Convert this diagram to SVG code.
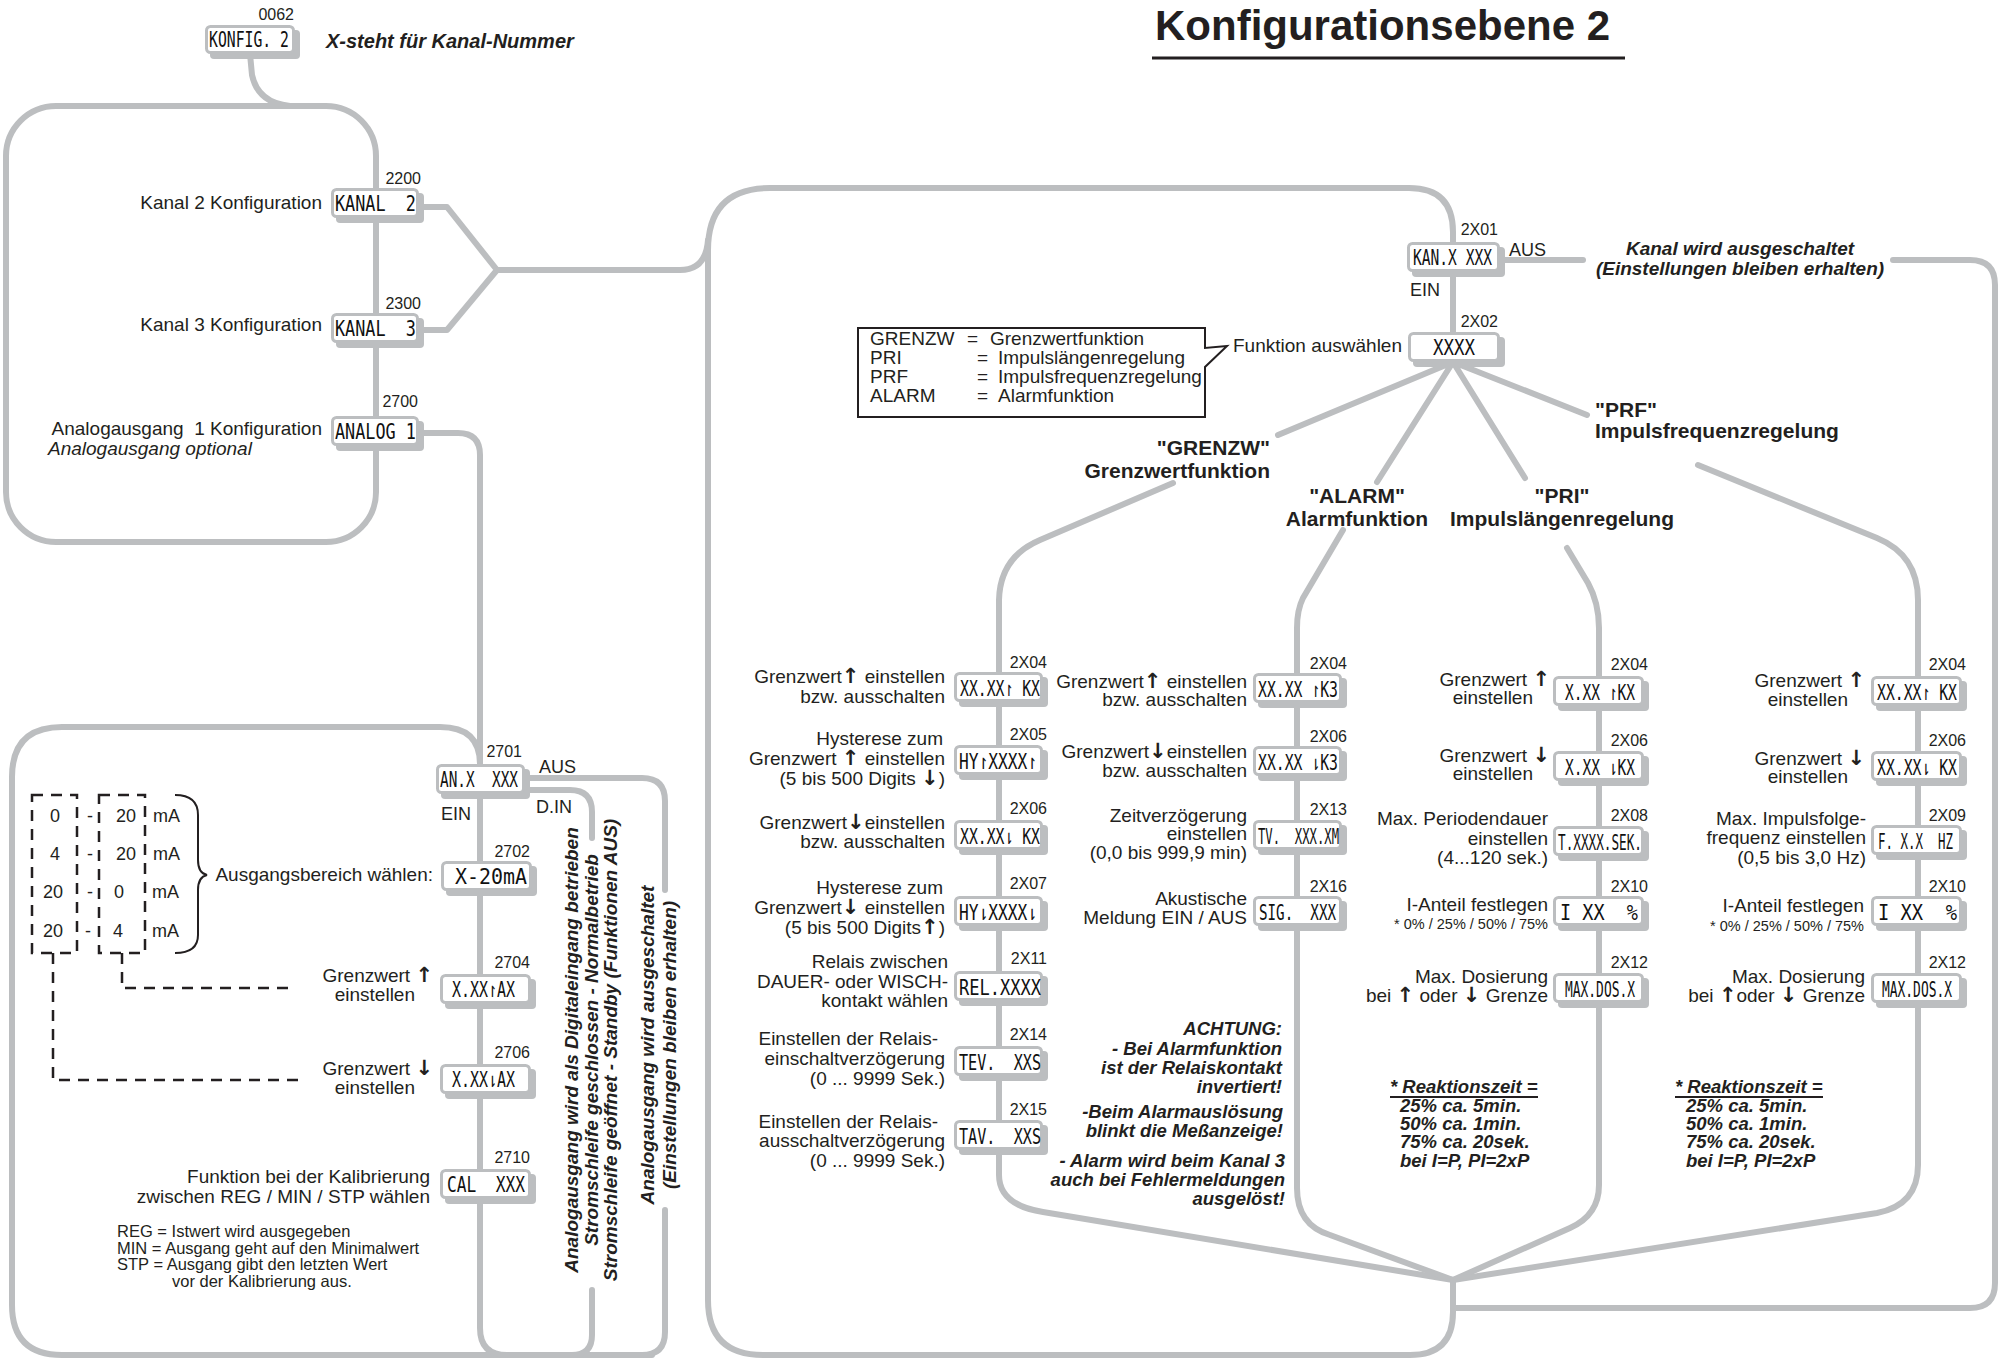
<svg xmlns="http://www.w3.org/2000/svg" width="1998" height="1361" viewBox="0 0 1998 1361" xml:space="preserve">
<defs>
<style>
.ln{fill:none;stroke:#bcbec0;stroke-width:6;stroke-linejoin:round;stroke-linecap:round}
.sh{fill:#bcbec0}
.bx{fill:#fff;stroke:#bcbec0;stroke-width:3}
.lcd{font-family:"DejaVu Sans Mono","Liberation Mono",monospace;font-size:21px;fill:#111;white-space:pre}
.t{font-family:"Liberation Sans",Arial,sans-serif;font-size:19px;fill:#231f20;white-space:pre}
.ar{font-family:"DejaVu Sans",sans-serif;font-weight:bold;font-size:21px}
.n{font-size:16px}
.s{font-size:16.5px}
.xs{font-size:14.5px}
.e{text-anchor:end}
.m{text-anchor:middle}
.b{font-weight:bold}
.bi{font-weight:bold;font-style:italic}
.i{font-style:italic}
.f21{font-size:21px}
.dash{fill:none;stroke:#231f20;stroke-width:2.5;stroke-dasharray:11 8}
.blk{fill:none;stroke:#231f20;stroke-width:2}
</style>
</defs>
<rect width="1998" height="1361" fill="#fff"/>

<g id="title">
<text class="t b" x="1155" y="40" style="font-size:42px">Konfigurationsebene 2</text>
<line x1="1152" y1="58" x2="1625" y2="58" stroke="#231f20" stroke-width="3"/>
<text class="t bi" x="326" y="48" style="font-size:20px">X-steht für Kanal-Nummer</text>
</g>

<g id="connectors">
<path class="ln" d="M250,54 L252,75 Q258,103 290,106"/>
<rect class="ln" x="6" y="106" width="370" height="436" rx="50"/>
<path class="ln" d="M419,207 L447,207 L497,270 L447,330 L419,330"/>
<path class="ln" d="M497,270 L680,270 Q706,270 708,240"/>
<path class="ln" d="M419,433 L458,433 Q480,433 480,455 L480,764"/>
<path class="ln" d="M480,764 Q480,727 440,727 L62,727 Q12,727 12,777 L12,1305 Q12,1355 62,1355 L652,1355"/>
<path class="ln" d="M480,794 L480,1328 Q480,1355 507,1355"/>
<path class="ln" d="M522,778 L642,778 Q665,778 665,801 L665,890"/>
<path class="ln" d="M665,1210 L665,1332 Q665,1355 642,1355"/>
<path class="ln" d="M522,790 L570,790 Q592,790 592,812 L592,838"/>
<path class="ln" d="M592,1290 L592,1335 Q592,1355 572,1355"/>
<path class="ln" d="M1453,242 L1453,232 Q1453,188 1409,188 L770,188 Q708,188 708,250 L708,1300 Q708,1355 763,1355 L1410,1355 Q1453,1355 1453,1312 L1453,1280"/>
<path class="ln" d="M1453,272 L1453,332"/>
<path class="ln" d="M1500,260 L1583,260"/>
<path class="ln" d="M1893,260 L1970,260 Q1995,260 1995,285 L1995,1283 Q1995,1308 1970,1308 L1453,1308"/>
<path class="ln" d="M1453,362 L1278,435 M1453,362 L1377,482 M1453,362 L1525,478 M1453,362 L1587,415"/>
<path class="ln" d="M1173,483 L1040,540 Q1000,557 999,600 L999,1175 Q999,1205 1043,1212 L1453,1280"/>
<path class="ln" d="M1343,530 L1303,598 Q1297,610 1297,628 L1297,1188 Q1297,1225 1330,1235 L1453,1280"/>
<path class="ln" d="M1567,548 L1588,583 Q1599,603 1599,628 L1599,1185 Q1599,1215 1570,1228 L1453,1280"/>
<path class="ln" d="M1698,465 L1877,538 Q1918,555 1918,600 L1918,1165 Q1918,1205 1877,1213 L1453,1280"/>
</g>

<g id="n0062">
<rect class="sh" x="210" y="30" width="90" height="29" rx="4"/>
<rect class="bx" x="206.5" y="26.5" width="87" height="26" rx="4"/>
<text class="lcd" x="209" y="47" textLength="80" lengthAdjust="spacingAndGlyphs">KONFIG. 2</text>
<text class="t n e" x="294" y="20">0062</text>
</g>
<g id="n2200">
<rect class="sh" x="336" y="193" width="88" height="30" rx="4"/>
<rect class="bx" x="332.5" y="189.5" width="85" height="27" rx="4"/>
<text class="lcd" x="335" y="211" textLength="81" lengthAdjust="spacingAndGlyphs">KANAL  2</text>
<text class="t n e" x="421" y="184">2200</text>
<text class="t e" x="322" y="209">Kanal 2 Konfiguration</text>
</g>
<g id="n2300">
<rect class="sh" x="336" y="318" width="88" height="30" rx="4"/>
<rect class="bx" x="332.5" y="314.5" width="85" height="27" rx="4"/>
<text class="lcd" x="335" y="336" textLength="81" lengthAdjust="spacingAndGlyphs">KANAL  3</text>
<text class="t n e" x="421" y="309">2300</text>
<text class="t e" x="322" y="331">Kanal 3 Konfiguration</text>
</g>
<g id="n2700">
<rect class="sh" x="336" y="421" width="88" height="30" rx="4"/>
<rect class="bx" x="332.5" y="417.5" width="85" height="27" rx="4"/>
<text class="lcd" x="335" y="439" textLength="81" lengthAdjust="spacingAndGlyphs">ANALOG 1</text>
<text class="t n e" x="418" y="407">2700</text>
<text class="t e" x="322" y="435">Analogausgang  1 Konfiguration</text>
<text class="t i" x="48" y="455">Analogausgang optional</text>
</g>

<g id="n2701">
<rect class="sh" x="441" y="769" width="89" height="30" rx="4"/>
<rect class="bx" x="437.5" y="765.5" width="86" height="27" rx="4"/>
<text class="lcd" x="440" y="787" textLength="78" lengthAdjust="spacingAndGlyphs">AN.X  XXX</text>
<text class="t n e" x="522" y="757">2701</text>
<text class="t" x="539" y="773" style="font-size:18px">AUS</text>
<text class="t" x="441" y="820" style="font-size:18px">EIN</text>
<text class="t" x="536" y="813" style="font-size:18px">D.IN</text>
</g>
<g id="n2702">
<rect class="sh" x="446" y="866" width="91" height="30" rx="4"/>
<rect class="bx" x="442.5" y="862.5" width="88" height="27" rx="4"/>
<text class="lcd" x="455" y="884" textLength="72" lengthAdjust="spacingAndGlyphs">X-20mA</text>
<text class="t n e" x="530" y="857">2702</text>
<text class="t e" x="433" y="881">Ausgangsbereich wählen:</text>
</g>
<g id="ranges">
<rect class="dash" x="32" y="795" width="45" height="158"/>
<rect class="dash" x="99" y="795" width="46" height="158"/>
<path class="dash" d="M53,953 L53,1080 L302,1080"/>
<path class="dash" d="M122,953 L122,988 L290,988"/>
<path class="blk" d="M175,795 Q198,795 198,815 L198,860 Q198,873 207,875 Q198,877 198,890 L198,935 Q198,953 175,953"/>
<g class="t" style="font-size:18px">
<text class="m" x="55" y="822">0</text><text class="m" x="90" y="822">-</text><text class="m" x="126" y="822">20</text><text x="153" y="822">mA</text>
<text class="m" x="55" y="860">4</text><text class="m" x="90" y="860">-</text><text class="m" x="126" y="860">20</text><text x="153" y="860">mA</text>
<text class="m" x="53" y="898">20</text><text class="m" x="90" y="898">-</text><text class="m" x="119" y="898">0</text><text x="152" y="898">mA</text>
<text class="m" x="53" y="937">20</text><text class="m" x="88" y="937">-</text><text class="m" x="118" y="937">4</text><text x="152" y="937">mA</text>
</g>
</g>
<g id="n2704">
<rect class="sh" x="445" y="979" width="91" height="30" rx="4"/>
<rect class="bx" x="441.5" y="975.5" width="88" height="27" rx="4"/>
<text class="lcd" x="452" y="997" textLength="63" lengthAdjust="spacingAndGlyphs">X.XX↾AX</text>
<text class="t n e" x="530" y="968">2704</text>
<text class="t e" x="433" y="982">Grenzwert <tspan class="ar">↑</tspan></text>
<text class="t e" x="415" y="1001">einstellen</text>
</g>
<g id="n2706">
<rect class="sh" x="445" y="1069" width="91" height="30" rx="4"/>
<rect class="bx" x="441.5" y="1065.5" width="88" height="27" rx="4"/>
<text class="lcd" x="452" y="1087" textLength="63" lengthAdjust="spacingAndGlyphs">X.XX⇂AX</text>
<text class="t n e" x="530" y="1058">2706</text>
<text class="t e" x="433" y="1075">Grenzwert <tspan class="ar">↓</tspan></text>
<text class="t e" x="415" y="1094">einstellen</text>
</g>
<g id="n2710">
<rect class="sh" x="445" y="1174" width="91" height="30" rx="4"/>
<rect class="bx" x="441.5" y="1170.5" width="88" height="27" rx="4"/>
<text class="lcd" x="447" y="1192" textLength="78" lengthAdjust="spacingAndGlyphs">CAL  XXX</text>
<text class="t n e" x="530" y="1163">2710</text>
<text class="t e" x="430" y="1183">Funktion bei der Kalibrierung</text>
<text class="t e" x="430" y="1203">zwischen REG / MIN / STP wählen</text>
</g>
<g id="calib-legend" class="t s">
<text x="117" y="1237">REG = Istwert wird ausgegeben</text>
<text x="117" y="1254">MIN  = Ausgang geht auf den Minimalwert</text>
<text x="117" y="1270">STP  = Ausgang gibt den letzten Wert</text>
<text x="172" y="1287">vor der Kalibrierung aus.</text>
</g>
<g id="din-notes" class="t bi m">
<text transform="translate(578,1050) rotate(-90)">Analogausgang wird als Digitaleingang betrieben</text>
<text transform="translate(598,1050) rotate(-90)">Stromschleife geschlossen - Normalbetrieb</text>
<text transform="translate(617,1050) rotate(-90)">Stromschleife geöffnet - Standby (Funktionen AUS)</text>
<text transform="translate(654,1045) rotate(-90)">Analogausgang wird ausgeschaltet</text>
<text transform="translate(676,1045) rotate(-90)">(Einstellungen bleiben erhalten)</text>
</g>

<g id="n2X01">
<rect class="sh" x="1412" y="247" width="93" height="30" rx="4"/>
<rect class="bx" x="1408.5" y="243.5" width="90" height="27" rx="4"/>
<text class="lcd" x="1413" y="265" textLength="79" lengthAdjust="spacingAndGlyphs">KAN.X XXX</text>
<text class="t n e" x="1498" y="235">2X01</text>
<text class="t" x="1509" y="256" style="font-size:18px">AUS</text>
<text class="t" x="1410" y="296" style="font-size:18px">EIN</text>
<text class="t bi m" x="1740" y="255">Kanal wird ausgeschaltet</text>
<text class="t bi m" x="1740" y="275">(Einstellungen bleiben erhalten)</text>
</g>
<g id="n2X02">
<rect class="sh" x="1413" y="337" width="92" height="30" rx="4"/>
<rect class="bx" x="1409.5" y="333.5" width="89" height="27" rx="4"/>
<text class="lcd" x="1433" y="355" textLength="42" lengthAdjust="spacingAndGlyphs">XXXX</text>
<text class="t n e" x="1498" y="327">2X02</text>
<text class="t e" x="1402" y="352">Funktion auswählen</text>
</g>
<g id="function-legend">
<path class="blk" d="M858,328 L1205,328 L1205,348 L1227,346 L1205,367 L1205,417 L858,417 Z"/>
<g class="t">
<text x="870" y="345">GRENZW</text><text x="967" y="345">=</text><text x="990" y="345">Grenzwertfunktion</text>
<text x="870" y="364">PRI</text><text x="977" y="364">=</text><text x="998" y="364">Impulslängenregelung</text>
<text x="870" y="383">PRF</text><text x="977" y="383">=</text><text x="998" y="383">Impulsfrequenzregelung</text>
<text x="870" y="402">ALARM</text><text x="977" y="402">=</text><text x="998" y="402">Alarmfunktion</text>
</g>
</g>
<g id="branch-labels" class="t b f21">
<text class="e" x="1270" y="455">"GRENZW"</text>
<text class="e" x="1270" y="478">Grenzwertfunktion</text>
<text class="m" x="1357" y="503">"ALARM"</text>
<text class="m" x="1357" y="526">Alarmfunktion</text>
<text class="m" x="1562" y="503">"PRI"</text>
<text class="m" x="1562" y="526">Impulslängenregelung</text>
<text x="1595" y="417">"PRF"</text>
<text x="1595" y="438">Impulsfrequenzregelung</text>
</g>

<g id="g2X04">
<rect class="sh" x="959" y="677" width="89" height="30" rx="4"/>
<rect class="bx" x="955.5" y="673.5" width="86" height="27" rx="4"/>
<text class="lcd" x="960" y="696" textLength="80" lengthAdjust="spacingAndGlyphs">XX.XX↾ KX</text>
<text class="t n e" x="1047" y="668">2X04</text>
<text class="t e" x="945" y="683">Grenzwert<tspan class="ar">↑</tspan> einstellen</text>
<text class="t e" x="945" y="703">bzw. ausschalten</text>
</g>
<g id="g2X05">
<rect class="sh" x="959" y="750" width="89" height="30" rx="4"/>
<rect class="bx" x="955.5" y="746.5" width="86" height="27" rx="4"/>
<text class="lcd" x="959" y="769" textLength="78" lengthAdjust="spacingAndGlyphs">HY↾XXXX↾</text>
<text class="t n e" x="1047" y="740">2X05</text>
<text class="t e" x="943" y="745">Hysterese zum</text>
<text class="t e" x="945" y="765">Grenzwert <tspan class="ar">↑</tspan> einstellen</text>
<text class="t e" x="945" y="785">(5 bis 500 Digits <tspan class="ar">↓</tspan>)</text>
</g>
<g id="g2X06">
<rect class="sh" x="959" y="825" width="89" height="30" rx="4"/>
<rect class="bx" x="955.5" y="821.5" width="86" height="27" rx="4"/>
<text class="lcd" x="960" y="844" textLength="80" lengthAdjust="spacingAndGlyphs">XX.XX⇂ KX</text>
<text class="t n e" x="1047" y="814">2X06</text>
<text class="t e" x="945" y="829">Grenzwert<tspan class="ar">↓</tspan>einstellen</text>
<text class="t e" x="945" y="848">bzw. ausschalten</text>
</g>
<g id="g2X07">
<rect class="sh" x="959" y="901" width="89" height="30" rx="4"/>
<rect class="bx" x="955.5" y="897.5" width="86" height="27" rx="4"/>
<text class="lcd" x="959" y="920" textLength="78" lengthAdjust="spacingAndGlyphs">HY⇂XXXX⇂</text>
<text class="t n e" x="1047" y="889">2X07</text>
<text class="t e" x="943" y="894">Hysterese zum</text>
<text class="t e" x="945" y="914">Grenzwert<tspan class="ar">↓</tspan> einstellen</text>
<text class="t e" x="945" y="934">(5 bis 500 Digits<tspan class="ar">↑</tspan>)</text>
</g>
<g id="g2X11">
<rect class="sh" x="959" y="976" width="89" height="30" rx="4"/>
<rect class="bx" x="955.5" y="972.5" width="86" height="27" rx="4"/>
<text class="lcd" x="959" y="995" textLength="82" lengthAdjust="spacingAndGlyphs">REL.XXXX</text>
<text class="t n e" x="1047" y="964">2X11</text>
<text class="t e" x="948" y="968">Relais zwischen</text>
<text class="t e" x="948" y="988">DAUER- oder WISCH-</text>
<text class="t e" x="948" y="1007">kontakt wählen</text>
</g>
<g id="g2X14">
<rect class="sh" x="959" y="1051" width="89" height="30" rx="4"/>
<rect class="bx" x="955.5" y="1047.5" width="86" height="27" rx="4"/>
<text class="lcd" x="959" y="1070" textLength="82" lengthAdjust="spacingAndGlyphs">TEV.  XXS</text>
<text class="t n e" x="1047" y="1040">2X14</text>
<text class="t e" x="938" y="1045">Einstellen der Relais-</text>
<text class="t e" x="945" y="1065">einschaltverzögerung</text>
<text class="t e" x="945" y="1085">(0 ... 9999 Sek.)</text>
</g>
<g id="g2X15">
<rect class="sh" x="959" y="1125" width="89" height="30" rx="4"/>
<rect class="bx" x="955.5" y="1121.5" width="86" height="27" rx="4"/>
<text class="lcd" x="959" y="1144" textLength="82" lengthAdjust="spacingAndGlyphs">TAV.  XXS</text>
<text class="t n e" x="1047" y="1115">2X15</text>
<text class="t e" x="938" y="1128">Einstellen der Relais-</text>
<text class="t e" x="945" y="1147">ausschaltverzögerung</text>
<text class="t e" x="945" y="1167">(0 ... 9999 Sek.)</text>
</g>

<g id="a2X04">
<rect class="sh" x="1258" y="678" width="89" height="30" rx="4"/>
<rect class="bx" x="1254.5" y="674.5" width="86" height="27" rx="4"/>
<text class="lcd" x="1258" y="697" textLength="80" lengthAdjust="spacingAndGlyphs">XX.XX ↾K3</text>
<text class="t n e" x="1347" y="669">2X04</text>
<text class="t e" x="1247" y="688">Grenzwert<tspan class="ar">↑</tspan> einstellen</text>
<text class="t e" x="1247" y="706">bzw. ausschalten</text>
</g>
<g id="a2X06">
<rect class="sh" x="1258" y="751" width="89" height="30" rx="4"/>
<rect class="bx" x="1254.5" y="747.5" width="86" height="27" rx="4"/>
<text class="lcd" x="1258" y="770" textLength="80" lengthAdjust="spacingAndGlyphs">XX.XX ⇂K3</text>
<text class="t n e" x="1347" y="742">2X06</text>
<text class="t e" x="1247" y="758">Grenzwert<tspan class="ar">↓</tspan>einstellen</text>
<text class="t e" x="1247" y="777">bzw. ausschalten</text>
</g>
<g id="a2X13">
<rect class="sh" x="1258" y="825" width="89" height="30" rx="4"/>
<rect class="bx" x="1254.5" y="821.5" width="86" height="27" rx="4"/>
<text class="lcd" x="1258" y="844" textLength="81" lengthAdjust="spacingAndGlyphs">TV.  XXX.XM</text>
<text class="t n e" x="1347" y="815">2X13</text>
<text class="t e" x="1247" y="822">Zeitverzögerung</text>
<text class="t e" x="1247" y="840">einstellen</text>
<text class="t e" x="1247" y="859">(0,0 bis 999,9 min)</text>
</g>
<g id="a2X16">
<rect class="sh" x="1258" y="901" width="89" height="30" rx="4"/>
<rect class="bx" x="1254.5" y="897.5" width="86" height="27" rx="4"/>
<text class="lcd" x="1259" y="920" textLength="77" lengthAdjust="spacingAndGlyphs">SIG.  XXX</text>
<text class="t n e" x="1347" y="892">2X16</text>
<text class="t e" x="1247" y="905">Akustische</text>
<text class="t e" x="1247" y="924">Meldung EIN / AUS</text>
</g>
<g id="achtung" class="t bi e" style="font-size:18.5px">
<text x="1282" y="1035">ACHTUNG:</text>
<text x="1282" y="1055">- Bei Alarmfunktion</text>
<text x="1282" y="1074">ist der Relaiskontakt</text>
<text x="1282" y="1093">invertiert!</text>
<text x="1283" y="1118">-Beim Alarmauslösung</text>
<text x="1283" y="1137">blinkt die Meßanzeige!</text>
<text x="1285" y="1167">- Alarm wird beim Kanal 3</text>
<text x="1285" y="1186">auch bei Fehlermeldungen</text>
<text x="1285" y="1205">ausgelöst!</text>
</g>

<g id="p2X04">
<rect class="sh" x="1558" y="681" width="91" height="30" rx="4"/>
<rect class="bx" x="1554.5" y="677.5" width="88" height="27" rx="4"/>
<text class="lcd" x="1565" y="700" textLength="70" lengthAdjust="spacingAndGlyphs">X.XX ↾KX</text>
<text class="t n e" x="1648" y="670">2X04</text>
<text class="t e" x="1550" y="686">Grenzwert <tspan class="ar">↑</tspan></text>
<text class="t e" x="1533" y="704">einstellen</text>
</g>
<g id="p2X06">
<rect class="sh" x="1558" y="756" width="91" height="30" rx="4"/>
<rect class="bx" x="1554.5" y="752.5" width="88" height="27" rx="4"/>
<text class="lcd" x="1565" y="775" textLength="70" lengthAdjust="spacingAndGlyphs">X.XX ⇂KX</text>
<text class="t n e" x="1648" y="746">2X06</text>
<text class="t e" x="1550" y="762">Grenzwert <tspan class="ar">↓</tspan></text>
<text class="t e" x="1533" y="780">einstellen</text>
</g>
<g id="p2X08">
<rect class="sh" x="1558" y="831" width="91" height="30" rx="4"/>
<rect class="bx" x="1554.5" y="827.5" width="88" height="27" rx="4"/>
<text class="lcd" x="1558" y="850" textLength="84" lengthAdjust="spacingAndGlyphs">T.XXXX.SEK.</text>
<text class="t n e" x="1648" y="821">2X08</text>
<text class="t e" x="1548" y="825">Max. Periodendauer</text>
<text class="t e" x="1548" y="845">einstellen</text>
<text class="t e" x="1548" y="864">(4...120 sek.)</text>
</g>
<g id="p2X10">
<rect class="sh" x="1558" y="901" width="91" height="30" rx="4"/>
<rect class="bx" x="1554.5" y="897.5" width="88" height="27" rx="4"/>
<text class="lcd" x="1560" y="920" textLength="78" lengthAdjust="spacingAndGlyphs">I XX  %</text>
<text class="t n e" x="1648" y="892">2X10</text>
<text class="t e" x="1548" y="911">I-Anteil festlegen</text>
<text class="t xs e" x="1548" y="929">* 0% / 25% / 50% / 75%</text>
</g>
<g id="p2X12">
<rect class="sh" x="1558" y="978" width="91" height="30" rx="4"/>
<rect class="bx" x="1554.5" y="974.5" width="88" height="27" rx="4"/>
<text class="lcd" x="1565" y="997" textLength="70" lengthAdjust="spacingAndGlyphs">MAX.DOS.X</text>
<text class="t n e" x="1648" y="968">2X12</text>
<text class="t e" x="1548" y="983">Max. Dosierung</text>
<text class="t e" x="1548" y="1002">bei <tspan class="ar">↑</tspan> oder <tspan class="ar">↓</tspan> Grenze</text>
</g>
<g id="pri-note" class="t bi" style="font-size:18.5px">
<text x="1390" y="1093">* Reaktionszeit =</text>
<line x1="1390" y1="1097" x2="1538" y2="1097" stroke="#231f20" stroke-width="2"/>
<text x="1400" y="1112">25% ca. 5min.</text>
<text x="1400" y="1130">50% ca. 1min.</text>
<text x="1400" y="1148">75% ca. 20sek.</text>
<text x="1400" y="1167">bei I=P, PI=2xP</text>
</g>

<g id="f2X04">
<rect class="sh" x="1876" y="681" width="91" height="30" rx="4"/>
<rect class="bx" x="1872.5" y="677.5" width="88" height="27" rx="4"/>
<text class="lcd" x="1877" y="700" textLength="80" lengthAdjust="spacingAndGlyphs">XX.XX↾ KX</text>
<text class="t n e" x="1966" y="670">2X04</text>
<text class="t e" x="1865" y="687">Grenzwert <tspan class="ar">↑</tspan></text>
<text class="t e" x="1848" y="706">einstellen</text>
</g>
<g id="f2X06">
<rect class="sh" x="1876" y="756" width="91" height="30" rx="4"/>
<rect class="bx" x="1872.5" y="752.5" width="88" height="27" rx="4"/>
<text class="lcd" x="1877" y="775" textLength="80" lengthAdjust="spacingAndGlyphs">XX.XX⇂ KX</text>
<text class="t n e" x="1966" y="746">2X06</text>
<text class="t e" x="1865" y="765">Grenzwert <tspan class="ar">↓</tspan></text>
<text class="t e" x="1848" y="783">einstellen</text>
</g>
<g id="f2X09">
<rect class="sh" x="1876" y="830" width="91" height="30" rx="4"/>
<rect class="bx" x="1872.5" y="826.5" width="88" height="27" rx="4"/>
<text class="lcd" x="1878" y="849" textLength="75" lengthAdjust="spacingAndGlyphs">F. X.X  HZ</text>
<text class="t n e" x="1966" y="821">2X09</text>
<text class="t e" x="1866" y="825">Max. Impulsfolge-</text>
<text class="t e" x="1866" y="844">frequenz einstellen</text>
<text class="t e" x="1866" y="864">(0,5 bis 3,0 Hz)</text>
</g>
<g id="f2X10">
<rect class="sh" x="1876" y="901" width="91" height="30" rx="4"/>
<rect class="bx" x="1872.5" y="897.5" width="88" height="27" rx="4"/>
<text class="lcd" x="1878" y="920" textLength="79" lengthAdjust="spacingAndGlyphs">I XX  %</text>
<text class="t n e" x="1966" y="892">2X10</text>
<text class="t e" x="1864" y="912">I-Anteil festlegen</text>
<text class="t xs e" x="1864" y="931">* 0% / 25% / 50% / 75%</text>
</g>
<g id="f2X12">
<rect class="sh" x="1876" y="978" width="91" height="30" rx="4"/>
<rect class="bx" x="1872.5" y="974.5" width="88" height="27" rx="4"/>
<text class="lcd" x="1882" y="997" textLength="70" lengthAdjust="spacingAndGlyphs">MAX.DOS.X</text>
<text class="t n e" x="1966" y="968">2X12</text>
<text class="t e" x="1865" y="983">Max. Dosierung</text>
<text class="t e" x="1865" y="1002">bei <tspan class="ar">↑</tspan>oder <tspan class="ar">↓</tspan> Grenze</text>
</g>
<g id="prf-note" class="t bi" style="font-size:18.5px">
<text x="1675" y="1093">* Reaktionszeit =</text>
<line x1="1675" y1="1097" x2="1823" y2="1097" stroke="#231f20" stroke-width="2"/>
<text x="1686" y="1112">25% ca. 5min.</text>
<text x="1686" y="1130">50% ca. 1min.</text>
<text x="1686" y="1148">75% ca. 20sek.</text>
<text x="1686" y="1167">bei I=P, PI=2xP</text>
</g>
</svg>
